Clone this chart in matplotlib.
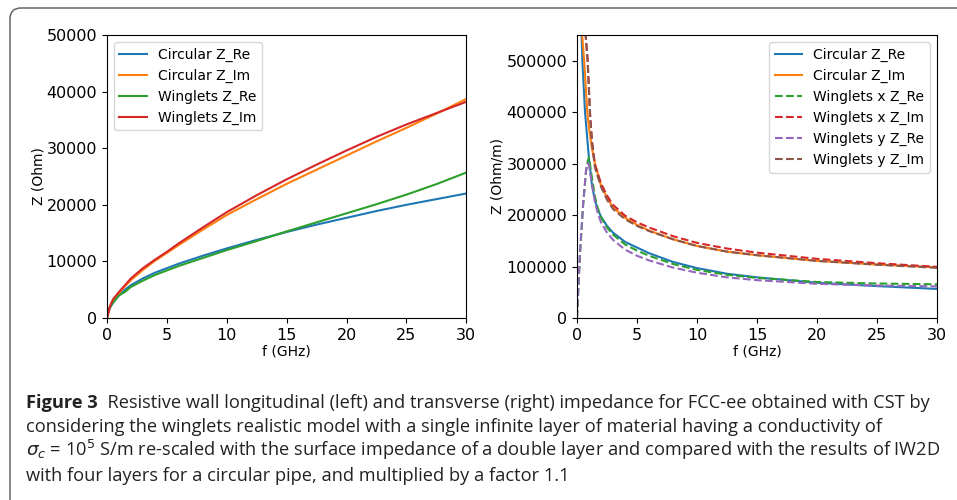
## Resistive wall impedance, longitudinal (left) and transverse (right)
import numpy as np
import matplotlib
matplotlib.use('Agg')
import matplotlib.pyplot as plt
from matplotlib.patches import FancyBboxPatch
from matplotlib.transforms import IdentityTransform

## Longitudinal impedance (Ohm)
f_long = [0, 0.25, 0.5, 1, 1.5, 2, 3, 4, 5, 6, 8, 10, 12.5, 15, 17.5, 20, 22.5, 25, 27.5, 30]
circ_re = [0, 1800, 2700, 4000, 5000, 5800, 7000, 8000, 8800, 9600, 11000, 12300,
    13800, 15200, 16500, 17700, 18900, 20000, 21000, 22000]
circ_im = [0, 2000, 3100, 4400, 5600, 6700, 8500, 10100, 11500, 12900, 15600, 18200,
    21000, 23700, 26200, 28700, 31200, 33600, 36100, 38700]
wing_re = [1200, 1900, 2700, 4000, 4600, 5500, 6600, 7600, 8400, 9200, 10600, 12000,
    13600, 15300, 16900, 18500, 20100, 21800, 23650, 25700]
wing_im = [0, 2100, 3300, 4600, 5800, 7000, 8800, 10300, 11700, 13200, 16000, 18700,
    21700, 24500, 27100, 29600, 32000, 34200, 36200, 38200]

## Transverse impedance (Ohm/m)
f_trans = [0.05, 0.25, 0.45, 0.67, 1, 1.25, 1.5, 1.75, 2, 2.5, 3, 4, 5, 6, 8, 10, 12.5, 15, 20, 25, 30]
ctr_re = [2000000, 650000, 500000, 400000, 310000, 258000, 228000, 210000, 197000, 179000,
    166000, 148000, 137000, 126000, 109000, 97000, 86000, 79000, 68500, 62000, 56500]
f_trans_im = [0.05, 0.25, 0.43, 0.6, 0.86, 1, 1.25, 1.5, 2, 2.5, 3, 4, 5, 6, 8, 10, 12.5, 15, 20, 25, 30]
ctr_im = [3000000, 900000, 550000, 500000, 400000, 370000, 330000, 300000, 258000, 234000,
    215000, 195000, 181000, 170000, 153000, 140000, 129000, 122000, 111000, 104000, 98500]

f_wing_re = [0, 0.25, 0.5, 0.75, 0.9, 1, 1.25, 1.5, 1.75, 2, 2.5, 3, 4, 5, 6, 8, 10, 12.5, 15, 20, 25, 30]
wx_re = [0, 120000, 215000, 285000, 305000, 312000, 272000, 236000, 212000, 196000, 176000,
    162000, 143000, 131000, 121000, 105000, 93500, 84000, 78000, 70000, 67000, 65500]
wy_re = [0, 130000, 218000, 285000, 301000, 297000, 260000, 226000, 202000, 186000, 166000,
    152000, 133000, 121000, 112000, 98000, 88000, 79000, 73500, 66500, 63000, 61500]

f_wing_im = [0.25, 0.5, 0.72, 0.89, 1.08, 1.25, 1.5, 2, 2.5, 3, 4, 5, 6, 8, 10, 12.5, 15, 20, 25, 30]
wx_im = [1500000, 800000, 550000, 500000, 400000, 345000, 298000, 262000, 238000, 220000,
    199000, 186000, 176000, 159000, 146000, 135000, 127000, 115000, 106500, 99500]
wy_im = [1500000, 800000, 550000, 500000, 400000, 340000, 292000, 255000, 230000, 212000,
    192000, 179000, 169000, 153000, 140000, 129000, 122000, 111000, 103500, 97500]

x_ticks = [0, 5, 10, 15, 20, 25, 30]

plt.rcParams['font.family'] = ['DejaVu Sans']
plt.rcParams['xtick.labelsize'] = 11.5
plt.rcParams['ytick.labelsize'] = 11.5
plt.rcParams['axes.labelsize'] = 10
plt.rcParams['legend.fontsize'] = 10

fig = plt.figure(figsize = (9.57, 5.0), dpi = 100)

## Left: longitudinal
ax1 = fig.add_axes([0.1118, 0.364, 0.3755, 0.566])
ax1.plot(f_long, circ_re, label = 'Circular Z_Re')
ax1.plot(f_long, circ_im, label = 'Circular Z_Im')
ax1.plot(f_long, wing_re, label = 'Winglets Z_Re')
ax1.plot(f_long, wing_im, label = 'Winglets Z_Im')
ax1.set_xlim(0, 30)
ax1.set_ylim(0, 50000)
ax1.set_xticks(x_ticks)
ax1.set_xlabel('f (GHz)', labelpad = 1)
ax1.set_ylabel('Z (Ohm)', labelpad = 1)
ax1.legend(loc = 'upper left')

## Right: transverse
ax2 = fig.add_axes([0.6029, 0.364, 0.3762, 0.566])
ax2.plot(f_trans, ctr_re, label = 'Circular Z_Re')
ax2.plot(f_trans_im, ctr_im, label = 'Circular Z_Im')
ax2.plot(f_wing_re, wx_re, '--', label = 'Winglets x Z_Re')
ax2.plot(f_wing_im, wx_im, '--', label = 'Winglets x Z_Im')
ax2.plot(f_wing_re, wy_re, '--', label = 'Winglets y Z_Re')
ax2.plot(f_wing_im, wy_im, '--', label = 'Winglets y Z_Im')
ax2.set_xlim(0, 30)
ax2.set_ylim(0, 550000)
ax2.set_xticks(x_ticks)
ax2.set_xlabel('f (GHz)', labelpad = 1)
ax2.set_ylabel('Z (Ohm/m)', labelpad = 1)
ax2.legend(loc = 'upper right')

## Rounded frame around figure (pixel coords)
frame = FancyBboxPatch((10, -60), 1000, 552, boxstyle = 'round,pad=0,rounding_size=11',
    transform = IdentityTransform(), fill = False, edgecolor = '#666666', linewidth = 1.1)
fig.add_artist(frame)

## Caption
cap_family = ['Open Sans', 'Lato']
renderer = fig.canvas.get_renderer()
lines = [
    [('Figure 3', 'bold'), ('  Resistive wall longitudinal (left) and transverse (right) impedance for FCC-ee obtained with CST by', 'normal')],
    [('considering the winglets realistic model with a single infinite layer of material having a conductivity of', 'normal')],
    [(r'$\sigma_c$ = 10$^5$ S/m re-scaled with the surface impedance of a double layer and compared with the results of IW2D', 'normal')],
    [('with four layers for a circular pipe, and multiplied by a factor 1.1', 'normal')],
]
baselines = [408, 432, 456, 481]

# size the caption so the first line spans the same width as in the figure
w = 0
for txt, wt in lines[0]:
    t = fig.text(0, 0, txt, fontsize = 10, family = cap_family, weight = wt)
    w += t.get_window_extent(renderer).width
    t.remove()
cap_size = 10 * 907 / w

for segs, yb in zip(lines, baselines):
    x = 26
    for txt, wt in segs:
        t = fig.text(x / 957, 1 - yb / 500, txt, fontsize = cap_size, family = cap_family,
            weight = wt, va = 'baseline', ha = 'left', color = '#222222')
        x += t.get_window_extent(renderer).width

fig.savefig('out.png', dpi = 100)
